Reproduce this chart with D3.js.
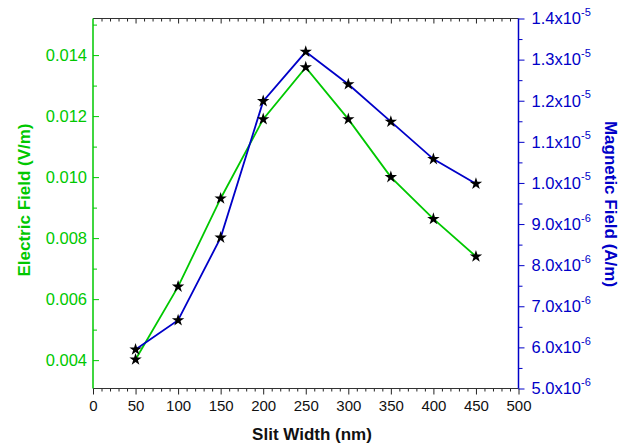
<!DOCTYPE html>
<html>
<head>
<meta charset="utf-8">
<script src="https://cdn.jsdelivr.net/npm/d3@7/dist/d3.min.js"></script>
<style>
  body { margin: 0; background: #fff; }
  svg text { font-family: "Liberation Sans", Arial, sans-serif; }
</style>
</head>
<body>
<svg id="chart" width="630" height="445"></svg>
<script>
// Slit width sweep (nm) and the resulting field amplitudes
const slitWidth = [50, 100, 150, 200, 250, 300, 350, 400, 450];
const electricField = [0.00402, 0.00641, 0.0093, 0.0119, 0.0136, 0.0119, 0.0100, 0.00863, 0.0074];
const magneticField = [5.95e-6, 6.66e-6, 8.67e-6, 1.199e-5, 1.319e-5, 1.24e-5, 1.149e-5, 1.058e-5, 9.98e-6];

// Axis ticks
const xTicks = [0, 50, 100, 150, 200, 250, 300, 350, 400, 450, 500];
const xMinor = [10, 20, 30, 40, 60, 70, 80, 90, 110, 120, 130, 140, 160, 170, 180, 190, 210, 220, 230, 240,
                260, 270, 280, 290, 310, 320, 330, 340, 360, 370, 380, 390, 410, 420, 430, 440, 460, 470, 480, 490];
const eTicks = [0.004, 0.006, 0.008, 0.010, 0.012, 0.014];
const eMinor = [0.005, 0.007, 0.009, 0.011, 0.013, 0.015];
const hTicks = [5e-6, 6e-6, 7e-6, 8e-6, 9e-6, 1e-5, 1.1e-5, 1.2e-5, 1.3e-5, 1.4e-5];
const hMinor = [5.5e-6, 6.5e-6, 7.5e-6, 8.5e-6, 9.5e-6, 1.05e-5, 1.15e-5, 1.25e-5, 1.35e-5];

const GREEN = "#00c800";
const BLUE = "#0000c8";

const plot = { left: 93, right: 518.5, top: 18.5, bottom: 388.5 };
const svg = d3.select("#chart");

const x = d3.scaleLinear().domain([0, 500]).range([plot.left, plot.right]);
const yE = d3.scaleLinear().domain([0.00307, 0.0152]).range([plot.bottom, plot.top]);
const yH = d3.scaleLinear().domain([5e-6, 1.4e-5]).range([plot.bottom, plot.top]);

function styleAxis(g, color) {
  g.select(".domain").remove();
  g.selectAll(".tick line").attr("stroke", color).attr("stroke-width", 1);
}

// Bottom axis (outward ticks)
const gx = svg.append("g").attr("transform", `translate(0,${plot.bottom})`);
gx.call(d3.axisBottom(x).tickValues(xMinor).tickSize(3).tickFormat(""))
  .call(g => styleAxis(g, "#222"));
const gx2 = svg.append("g").attr("transform", `translate(0,${plot.bottom})`);
gx2.call(d3.axisBottom(x).tickValues(xTicks).tickSize(6).tickPadding(6).tickFormat(d3.format("d")))
  .call(g => styleAxis(g, "#222"));
gx2.selectAll(".tick text").attr("fill", "#111").attr("font-size", 15);

// Top axis mirrors the bottom one, ticks pointing inward
const gt = svg.append("g").attr("transform", `translate(0,${plot.top})`);
gt.call(d3.axisBottom(x).tickValues(xMinor).tickSize(3).tickFormat(""))
  .call(g => styleAxis(g, "#222"));
const gt2 = svg.append("g").attr("transform", `translate(0,${plot.top})`);
gt2.call(d3.axisBottom(x).tickValues(xTicks.filter(d => d > 0 && d < 500)).tickSize(5).tickFormat(""))
  .call(g => styleAxis(g, "#222"));

// Left axis: electric field, ticks pointing inward
const gl = svg.append("g").attr("transform", `translate(${plot.left},0)`);
gl.call(d3.axisRight(yE).tickValues(eMinor.filter(d => d <= 0.0152)).tickSize(4).tickFormat(""))
  .call(g => styleAxis(g, GREEN));
const gl2 = svg.append("g").attr("transform", `translate(${plot.left},0)`);
gl2.call(d3.axisRight(yE).tickValues(eTicks).tickSize(6).tickFormat(d3.format(".3f")))
  .call(g => styleAxis(g, GREEN));
gl2.selectAll(".tick text")
  .attr("x", -6).attr("text-anchor", "end")
  .attr("fill", GREEN).attr("font-size", 16.5);

// Right axis: magnetic field, ticks pointing outward
const gr = svg.append("g").attr("transform", `translate(${plot.right},0)`);
gr.call(d3.axisRight(yH).tickValues(hMinor).tickSize(4).tickFormat(""))
  .call(g => styleAxis(g, BLUE));
const gr2 = svg.append("g").attr("transform", `translate(${plot.right},0)`);
gr2.call(d3.axisRight(yH).tickValues(hTicks).tickSize(6).tickPadding(7).tickFormat(""))
  .call(g => styleAxis(g, BLUE));
gr2.selectAll(".tick text").each(function(d) {
  const exp = Math.floor(Math.log10(d) + 1e-9);
  const mant = (d / Math.pow(10, exp)).toFixed(1);
  const t = d3.select(this).attr("fill", BLUE).attr("font-size", 16.5);
  t.text(null);
  t.append("tspan").text(mant + "x10");
  t.append("tspan").attr("font-size", 11).attr("dy", "-0.75em").text(String(exp));
});

// Frame lines
svg.append("line").attr("x1", plot.left).attr("x2", plot.right).attr("y1", plot.bottom).attr("y2", plot.bottom)
  .attr("stroke", "#333").attr("stroke-width", 1.2);
svg.append("line").attr("x1", plot.left).attr("x2", plot.right).attr("y1", plot.top).attr("y2", plot.top)
  .attr("stroke", "#333").attr("stroke-width", 1.2);
svg.append("line").attr("x1", plot.left).attr("x2", plot.left).attr("y1", plot.top).attr("y2", plot.bottom)
  .attr("stroke", GREEN).attr("stroke-width", 1.5);
svg.append("line").attr("x1", plot.right).attr("x2", plot.right).attr("y1", plot.top).attr("y2", plot.bottom)
  .attr("stroke", BLUE).attr("stroke-width", 1.5);

// Data lines
const lineE = d3.line().x((d, i) => x(slitWidth[i])).y(d => yE(d));
const lineH = d3.line().x((d, i) => x(slitWidth[i])).y(d => yH(d));

svg.append("path").datum(electricField).attr("d", lineE)
  .attr("fill", "none").attr("stroke", GREEN).attr("stroke-width", 1.8);
svg.append("path").datum(magneticField).attr("d", lineH)
  .attr("fill", "none").attr("stroke", BLUE).attr("stroke-width", 1.8);

// Star markers
const star = d3.symbol().type(d3.symbolStar).size(48);
svg.append("g").selectAll("path").data(electricField).join("path")
  .attr("d", star)
  .attr("transform", (d, i) => `translate(${x(slitWidth[i])},${yE(d)})`)
  .attr("fill", "#000");
svg.append("g").selectAll("path").data(magneticField).join("path")
  .attr("d", star)
  .attr("transform", (d, i) => `translate(${x(slitWidth[i])},${yH(d)})`)
  .attr("fill", "#000");

// Axis titles
svg.append("text")
  .attr("x", 312).attr("y", 440)
  .attr("text-anchor", "middle").attr("font-size", 17).attr("font-weight", "bold").attr("fill", "#111")
  .text("Slit Width (nm)");
svg.append("text")
  .attr("transform", "translate(30,200) rotate(-90)")
  .attr("text-anchor", "middle").attr("font-size", 17).attr("font-weight", "bold").attr("fill", GREEN)
  .text("Electric Field (V/m)");
svg.append("text")
  .attr("transform", "translate(605,204) rotate(90)")
  .attr("text-anchor", "middle").attr("font-size", 17).attr("font-weight", "bold").attr("fill", BLUE)
  .text("Magnetic Field (A/m)");
</script>
</body>
</html>
